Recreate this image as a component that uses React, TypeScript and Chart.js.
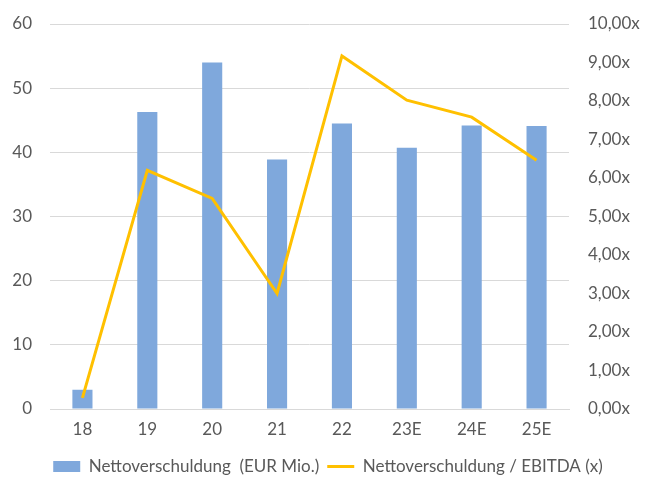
import React, { useEffect, useRef } from "react";
import { Chart, registerables } from "chart.js";

Chart.register(...registerables);

const categories = ["18", "19", "20", "21", "22", "23E", "24E", "25E"];
const netDebt = [3.0, 46.3, 54.0, 38.9, 44.5, 40.7, 44.2, 44.1];
const leverage = [0.29, 6.2, 5.47, 3.0, 9.17, 8.02, 7.58, 6.46];
const barLabel = "Nettoverschuldung  (EUR Mio.)";
const lineLabel = "Nettoverschuldung / EBITDA (x)";

export default function App() {
  const ref = useRef<HTMLCanvasElement>(null);
  useEffect(() => {
    if (!ref.current) return;
    const font = { family: "Lato, 'Open Sans', sans-serif", size: 17 };
    const chart = new Chart(ref.current, {
      type: "bar",
      data: {
        labels: categories,
        datasets: [
          {
            type: "line",
            label: lineLabel,
            data: leverage,
            yAxisID: "y1",
            borderColor: "#FFC000",
            backgroundColor: "#FFC000",
            borderWidth: 3,
            pointRadius: 0,
            tension: 0,
            order: 0,
            pointStyle: "line",
          } as any,
          {
            type: "bar",
            label: barLabel,
            data: netDebt,
            yAxisID: "y",
            backgroundColor: "#7FA8DC",
            barPercentage: 0.31,
            categoryPercentage: 1,
            order: 1,
            pointStyle: "rect",
          } as any,
        ],
      },
      options: {
        animation: false,
        responsive: false,
        layout: { padding: { top: 24, right: 0, left: 0, bottom: -6 } },
        plugins: {
          tooltip: { enabled: false },
          legend: {
            position: "bottom",
            reverse: true,
            labels: {
              color: "#595959",
              font,
              usePointStyle: true,
              pointStyleWidth: 27,
              boxHeight: 11,
              padding: 8,
            },
          },
        },
        scales: {
          x: {
            grid: { display: false },
            border: { display: true, color: "#d9d9d9" },
            ticks: { color: "#595959", font, padding: 2 },
            afterFit: (s: any) => {
              s.height = 41;
              s.paddingLeft = 0;
              s.paddingRight = 0;
            },
          },
          y: {
            position: "left",
            min: 0,
            max: 60,
            ticks: { stepSize: 10, color: "#595959", font, padding: 18 },
            grid: { color: "#d9d9d9", drawTicks: false },
            border: { display: false },
            afterFit: (s: any) => {
              s.width = 50;
              s.paddingTop = 0;
              s.paddingBottom = 0;
            },
          },
          y1: {
            position: "right",
            min: 0,
            max: 10,
            ticks: {
              stepSize: 1,
              color: "#595959",
              font,
              padding: 19,
              callback: (v: any) => Number(v).toFixed(2).replace(".", ",") + "x",
            },
            grid: { display: false, drawTicks: false },
            border: { display: false },
            afterFit: (s: any) => {
              s.width = 87;
              s.paddingTop = 0;
              s.paddingBottom = 0;
            },
          },
        },
      },
    });
    return () => chart.destroy();
  }, []);
  return (
    <div style={{ position: "fixed", left: 0, top: 0, width: 656, height: 479, background: "#fff" }}>
      <canvas ref={ref} width={656} height={479} />
    </div>
  );
}
